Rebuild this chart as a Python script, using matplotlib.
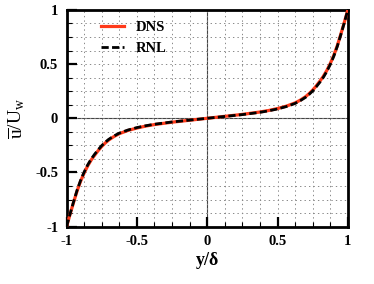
import matplotlib
matplotlib.use("Agg")
import matplotlib.pyplot as plt
from matplotlib.ticker import MultipleLocator

plt.rcParams['font.family'] = ['Liberation Serif', 'DejaVu Serif']
plt.rcParams['axes.unicode_minus'] = False
plt.rcParams['mathtext.fontset'] = 'custom'
plt.rcParams['mathtext.rm'] = 'Liberation Serif'
plt.rcParams['mathtext.it'] = 'Liberation Serif:italic'
plt.rcParams['mathtext.bf'] = 'Liberation Serif:bold'

y_dns = [-1.0, -0.975, -0.95, -0.925, -0.9, -0.875, -0.85, -0.825, -0.8, -0.775, -0.75, -0.725,
         -0.7, -0.6625, -0.625, -0.5625, -0.5, -0.4375, -0.375, -0.25, -0.125, 0.0,
         0.125, 0.25, 0.375, 0.4375, 0.5, 0.5625, 0.625, 0.6625, 0.7, 0.725, 0.75, 0.775,
         0.8, 0.825, 0.85, 0.875, 0.9, 0.925, 0.95, 0.975, 1.0]
u_dns = [-1.0, -0.885, -0.775, -0.67, -0.58, -0.505, -0.44, -0.385, -0.34, -0.298, -0.26, -0.228,
         -0.2, -0.168, -0.142, -0.112, -0.09, -0.072, -0.058, -0.036, -0.018, 0.0,
         0.018, 0.036, 0.058, 0.072, 0.09, 0.112, 0.142, 0.168, 0.2, 0.228, 0.26, 0.298,
         0.34, 0.385, 0.44, 0.505, 0.58, 0.67, 0.775, 0.885, 1.0]

y_rnl = [-1.0, -0.975, -0.95, -0.925, -0.9, -0.875, -0.85, -0.825, -0.8, -0.775, -0.75, -0.725,
         -0.7, -0.6625, -0.625, -0.5625, -0.5, -0.4375, -0.375, -0.25, -0.125, 0.0,
         0.125, 0.25, 0.375, 0.4375, 0.5, 0.5625, 0.625, 0.6625, 0.7, 0.725, 0.75, 0.775,
         0.8, 0.825, 0.85, 0.875, 0.9, 0.925, 0.95, 0.975, 1.0]
u_rnl = [-1.0, -0.882, -0.77, -0.663, -0.572, -0.496, -0.431, -0.376, -0.331, -0.29, -0.252, -0.221,
         -0.194, -0.163, -0.137, -0.108, -0.086, -0.069, -0.055, -0.034, -0.017, 0.0,
         0.017, 0.034, 0.055, 0.069, 0.086, 0.108, 0.137, 0.163, 0.194, 0.221, 0.252, 0.29,
         0.331, 0.376, 0.431, 0.496, 0.572, 0.663, 0.77, 0.882, 1.0]

fig = plt.figure(figsize=(3.74, 2.84), dpi=100)
ax = fig.add_axes([0.178, 0.202, 0.752, 0.763])

ax.set_xlim(-1, 1)
ax.set_ylim(-1, 1)

ax.xaxis.set_major_locator(MultipleLocator(0.5))
ax.xaxis.set_minor_locator(MultipleLocator(0.125))
ax.yaxis.set_major_locator(MultipleLocator(0.5))
ax.yaxis.set_minor_locator(MultipleLocator(0.125))

ax.grid(True, which='both', linestyle=(0, (1.4, 3.2)), color='#888888', linewidth=0.7)
ax.axhline(0, color='#444444', linewidth=0.8, zorder=1)
ax.axvline(0, color='#444444', linewidth=0.8, zorder=1)

ax.plot(y_dns, u_dns, color='#ff3a1a', linewidth=2.3, label='DNS', zorder=3,
        solid_joinstyle='round')
ax.plot(y_rnl, u_rnl, color='black', linewidth=2.0, linestyle=(0, (2.6, 1.2)), label='RNL',
        zorder=4, dash_joinstyle='round')

for s in ax.spines.values():
    s.set_linewidth(2.0)

ax.tick_params(which='major', direction='in', length=7, width=1.6, top=False, right=False, pad=6)
ax.tick_params(which='minor', direction='in', length=3.5, width=0.8, top=False, right=False)

ax.set_xticks([-1, -0.5, 0, 0.5, 1])
ax.set_xticklabels(['-1', '-0.5', '0', '0.5', '1'], fontweight='bold', fontsize=10.5)
ax.set_yticks([-1, -0.5, 0, 0.5, 1])
ax.set_yticklabels(['-1', '-0.5', '0', '0.5', '1'], fontweight='bold', fontsize=10.5)

ax.set_xlabel('y/δ', fontweight='bold', fontsize=13, labelpad=3)
ax.set_ylabel(r'$\overline{\mathrm{u}}/\mathrm{U_w}$', fontsize=14, labelpad=6)

leg = ax.legend(loc='upper left', bbox_to_anchor=(0.075, 1.01), frameon=False,
                handlelength=1.6, handletextpad=0.8, labelspacing=0.55,
                prop={'family': 'Liberation Serif', 'weight': 'bold', 'size': 10.5})

fig.savefig('out.png', dpi=100)
